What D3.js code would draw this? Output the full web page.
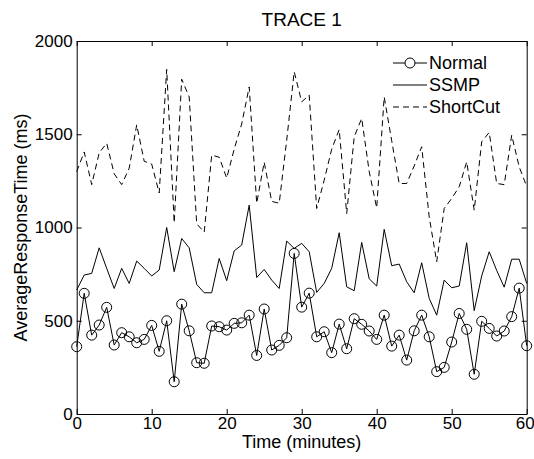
<!DOCTYPE html>
<html>
<head>
<meta charset="utf-8">
<script src="https://cdnjs.cloudflare.com/ajax/libs/d3/7.8.5/d3.min.js"></script>
<style>
    body { margin: 0; background: #fff; }
    text { font-family: Arial, "Liberation Sans", sans-serif; fill: #000; }
</style>
</head>
<body>
<script>
// Data (response time in ms, one value per minute)
var minutes = d3.range(0, 61);

var normal = [361, 647, 423, 477, 572, 370, 436, 414, 382, 400,
    475, 336, 500, 173, 589, 446, 275, 272, 472, 468,
    450, 486, 489, 530, 314, 563, 343, 368, 409, 861,
    573, 648, 414, 441, 329, 482, 350, 511, 481, 445,
    400, 530, 364, 423, 289, 446, 530, 414, 227, 250,
    386, 539, 454, 213, 497, 459, 418, 445, 522, 675, 366];

var ssmp = [665, 745, 754, 891, 781, 673, 781, 700, 820, 781,
    740, 772, 1000, 763, 941, 891, 695, 650, 650, 834,
    715, 875, 906, 1120, 732, 775, 718, 673, 927, 888,
    915, 870, 652, 700, 781, 972, 682, 661, 920, 725,
    686, 990, 795, 804, 709, 650, 811, 620, 530, 718,
    677, 686, 918, 554, 740, 870, 770, 680, 830, 830, 700];

var shortcut = [1300, 1405, 1230, 1400, 1452, 1288, 1230, 1318, 1550, 1355,
    1340, 1185, 1848, 1025, 1795, 1700, 1020, 975, 1388, 1377,
    1265, 1420, 1555, 1754, 1130, 1350, 1140, 1130, 1468, 1835,
    1674, 1710, 1102, 1254, 1420, 1525, 1075, 1486, 1585, 1300,
    1105, 1700, 1465, 1236, 1236, 1330, 1433, 1057, 816, 1102,
    1156, 1218, 1352, 1093, 1460, 1510, 1236, 1230, 1495, 1325, 1220];

var seriesNames = ["Normal", "SSMP", "ShortCut"];
var xTicks = [0, 10, 20, 30, 40, 50, 60];
var yTicks = [0, 500, 1000, 1500, 2000];

// svg size and plot margins
var svgWidth = 534;
var svgHeight = 459;
var margin = { top: 41, right: 7.3, bottom: 45, left: 76.7 };
var chartWidth = svgWidth - margin.left - margin.right;
var chartHeight = svgHeight - margin.top - margin.bottom;

var svg = d3.select("body")
    .append("svg")
    .attr("width", svgWidth)
    .attr("height", svgHeight);

var chart = svg.append("g")
    .attr("transform", "translate(" + margin.left + "," + margin.top + ")");

var xScale = d3.scaleLinear().domain([0, 60]).range([0, chartWidth]);
var yScale = d3.scaleLinear().domain([0, 2000]).range([chartHeight, 0]);

// matlab style axes: ticks point inward, box on all four sides
var bottomAxis = d3.axisBottom(xScale).tickValues(xTicks).tickFormat(d3.format("d"))
    .tickSizeInner(-5).tickSizeOuter(0).tickPadding(3);
var leftAxis = d3.axisLeft(yScale).tickValues(yTicks).tickFormat(d3.format("d"))
    .tickSizeInner(-5).tickSizeOuter(0).tickPadding(4);
var topAxis = d3.axisTop(xScale).tickValues(xTicks).tickSizeInner(-5).tickSizeOuter(0).tickFormat("");
var rightAxis = d3.axisRight(yScale).tickValues(yTicks).tickSizeInner(-5).tickSizeOuter(0).tickFormat("");

var xAxis = chart.append("g")
    .attr("transform", "translate(0," + chartHeight + ")")
    .call(bottomAxis);
chart.append("g").call(leftAxis);
chart.append("g").call(topAxis);
chart.append("g")
    .attr("transform", "translate(" + chartWidth + ",0)")
    .call(rightAxis);

chart.selectAll(".domain").attr("stroke", "#000").attr("stroke-width", 1);
chart.selectAll(".tick line").attr("stroke", "#000");
chart.selectAll(".tick text")
    .style("font-size", "17px")
    .style("font-family", "Arial, 'Liberation Sans', sans-serif");

// last x label sits right at the window edge, pull it in a little
xAxis.selectAll(".tick text")
    .filter(function(d) { return d == 60; })
    .attr("dx", "-2");

// lines
var line = d3.line()
    .x(function(d, i) { return xScale(minutes[i]); })
    .y(function(d) { return yScale(d); });

chart.append("path")
    .datum(shortcut)
    .attr("d", line)
    .attr("fill", "none")
    .attr("stroke", "#000")
    .attr("stroke-width", 1)
    .attr("stroke-dasharray", "6,4");

chart.append("path")
    .datum(ssmp)
    .attr("d", line)
    .attr("fill", "none")
    .attr("stroke", "#000")
    .attr("stroke-width", 1);

chart.append("path")
    .datum(normal)
    .attr("d", line)
    .attr("fill", "none")
    .attr("stroke", "#000")
    .attr("stroke-width", 1);

chart.selectAll(".marker")
    .data(normal)
    .enter()
    .append("circle")
    .attr("class", "marker")
    .attr("cx", function(d, i) { return xScale(minutes[i]); })
    .attr("cy", function(d) { return yScale(d); })
    .attr("r", 5)
    .attr("fill", "none")
    .attr("stroke", "#000")
    .attr("stroke-width", 1);

// legend (no box)
var legend = chart.append("g")
    .attr("transform", "translate(" + (393 - margin.left) + "," + (63 - margin.top) + ")");

seriesNames.forEach(function(name, i) {
    var row = legend.append("g").attr("transform", "translate(0," + (i * 22) + ")");
    row.append("line")
        .attr("x1", 0).attr("x2", 34)
        .attr("y1", 0).attr("y2", 0)
        .attr("stroke", "#000")
        .attr("stroke-dasharray", i == 2 ? "6,4" : null);
    if (i == 0) {
        row.append("circle")
            .attr("cx", 17).attr("cy", 0).attr("r", 5)
            .attr("fill", "#fff").attr("stroke", "#000");
    }
    row.append("text")
        .attr("x", 36).attr("y", 0)
        .attr("dy", "0.35em")
        .style("font-size", "18px")
        .text(name);
});

// title and axis labels
svg.append("text")
    .attr("x", margin.left + chartWidth / 2)
    .attr("y", 26)
    .attr("text-anchor", "middle")
    .style("font-size", "19px")
    .text("TRACE 1");

svg.append("text")
    .attr("x", margin.left + chartWidth / 2)
    .attr("y", 448)
    .attr("text-anchor", "middle")
    .style("font-size", "18px")
    .text("Time (minutes)");

svg.append("text")
    .attr("transform", "translate(27," + (margin.top + chartHeight / 2) + ") rotate(-90)")
    .attr("text-anchor", "middle")
    .style("font-size", "18px")
    .text("AverageResponseTime (ms)");
</script>
</body>
</html>
